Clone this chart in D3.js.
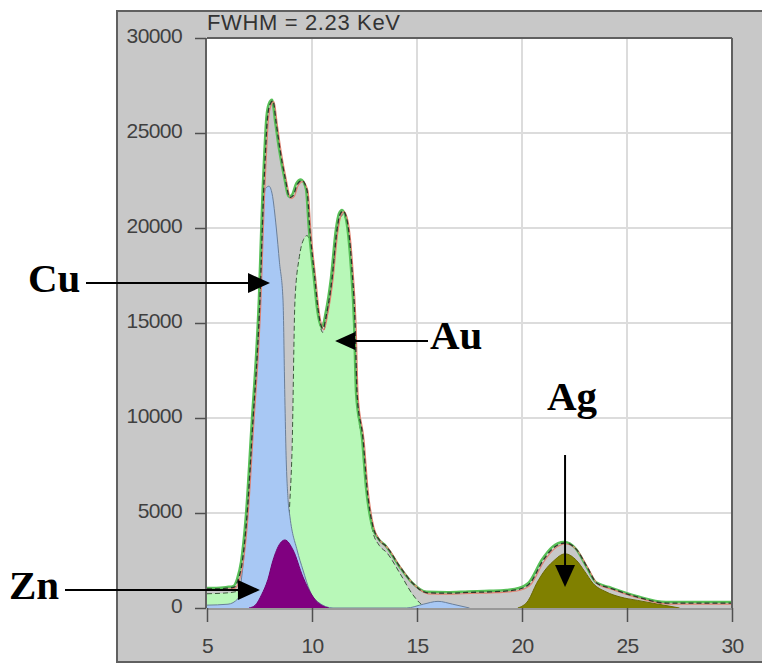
<!DOCTYPE html>
<html>
<head>
<meta charset="utf-8">
<script src="https://cdn.jsdelivr.net/npm/d3@7"></script>
<style>
  html, body { margin: 0; padding: 0; background: #fff; }
  svg { display: block; }
</style>
</head>
<body>
<svg width="762" height="664"></svg>
<script>
// 0. data (energy in keV, counts)
// ----------------------------------
var xTicks = [5, 10, 15, 20, 25, 30];
var yTicks = [0, 5000, 10000, 15000, 20000, 25000, 30000];

var totalE = [5.0, 5.5, 6.0, 6.3, 6.48, 6.67, 6.9, 7.19, 7.4, 7.52, 7.62, 7.7, 7.78, 7.88, 8.0, 8.14, 8.3, 8.48, 8.71, 8.95, 9.1, 9.3, 9.52, 9.76, 9.9, 10.14, 10.29, 10.52, 10.7, 10.95, 11.19, 11.33, 11.48, 11.67, 11.9, 12.05, 12.15, 12.43, 12.62, 12.9, 13.2, 13.57, 14.2, 14.8, 15.5, 16.5, 17.5, 18.5, 19.3, 19.9, 20.38, 21.0, 21.48, 22.05, 22.62, 23.1, 23.57, 24.19, 25.48, 26.9, 28.0, 30.0];
var totalC = [1000, 1000, 1050, 1100, 1470, 2370, 4800, 9900, 13500, 16200, 19500, 22000, 23900, 25800, 26500, 26700, 25500, 24100, 22700, 21600, 21700, 22300, 22500, 22000, 19900, 17300, 15700, 14700, 15500, 17300, 19900, 20700, 20900, 20400, 17900, 15000, 11200, 8900, 6300, 4300, 3600, 3200, 2150, 1300, 800, 780, 820, 850, 900, 1000, 1300, 2500, 3150, 3420, 3050, 2150, 1300, 1050, 580, 260, 260, 260];

var auE = [5.0, 6.0, 6.5, 7.0, 8.0, 8.6, 8.85, 8.95, 9.05, 9.19, 9.4, 9.6, 9.76, 9.9, 10.14, 10.29, 10.52, 10.7, 10.95, 11.19, 11.33, 11.48, 11.67, 11.9, 12.05, 12.15, 12.43, 12.62, 12.9, 13.2, 13.57, 14.2, 14.8, 15.2, 15.6];
var auC = [750, 800, 900, 1200, 1200, 1500, 4000, 5700, 8300, 16200, 18500, 19400, 19600, 19300, 17100, 15500, 14500, 15300, 17100, 19700, 20500, 20700, 20200, 17500, 14200, 10800, 8500, 6000, 4000, 3300, 2900, 1800, 700, 200, 0];

var cuE = [5.0, 6.0, 6.48, 6.67, 6.9, 7.19, 7.4, 7.52, 7.62, 7.7, 7.8, 7.95, 8.1, 8.3, 8.45, 8.62, 8.7, 8.76, 8.86, 8.95, 9.29, 9.57, 9.9, 10.3, 11.0, 14.5, 15.3, 16.0, 16.7, 17.5];
var cuC = [150, 200, 500, 1800, 4500, 9600, 13200, 15900, 19200, 21500, 22100, 22200, 21800, 20000, 18200, 16200, 11500, 8300, 5700, 4800, 3050, 2000, 900, 300, 0, 0, 200, 350, 200, 0];

var znE = [7.0, 7.3, 7.6, 7.9, 8.14, 8.48, 8.71, 9.1, 9.57, 10.05, 10.52, 10.8];
var znC = [0, 150, 700, 1500, 2500, 3400, 3580, 3050, 1630, 580, 100, 0];

var agE = [19.8, 20.3, 20.7, 21.1, 21.48, 22.05, 22.6, 23.0, 23.38, 24.0, 24.67, 25.5, 26.24, 27.0, 27.5];
var agC = [0, 400, 1300, 2000, 2450, 2850, 2500, 1900, 1300, 850, 580, 400, 250, 100, 0];

// element labels with arrow tip in data coords
var labels = [
  { name: 'Cu', e: 8.0, c: 17100, dir: 'right' },
  { name: 'Au', e: 11.1, c: 14050, dir: 'left' },
  { name: 'Ag', e: 22.05, c: 1100, dir: 'down' },
  { name: 'Zn', e: 7.52, c: 950, dir: 'right' }
];

function zip(es, cs) { return es.map((e, i) => [e, cs[i]]); }

// 1. setup
// ----------------------------------
var svg = d3.select('svg');

var x = d3.scaleLinear().domain([5, 30]).range([207, 732]);
var y = d3.scaleLinear().domain([0, 30000]).range([608, 38]);

// grey panel
svg.append('rect')
    .attr('x', 117).attr('y', 11)
    .attr('width', 660).attr('height', 651)
    .style('fill', '#c8c8c8')
    .style('stroke', '#606060')
    .style('stroke-width', 2);

svg.append('text')
    .attr('x', 207).attr('y', 30)
    .attr('textLength', 193)
    .style('font-family', 'Liberation Sans, Arial, sans-serif')
    .style('font-size', '22px')
    .style('fill', '#333')
    .text('FWHM = 2.23 KeV');

// plot area
svg.append('rect')
    .attr('x', x(5)).attr('y', y(30000))
    .attr('width', x(30) - x(5)).attr('height', y(0) - y(30000))
    .style('fill', '#fff');

svg.append('clipPath').attr('id', 'plot-clip')
  .append('rect')
    .attr('x', x(5)).attr('y', y(30000))
    .attr('width', x(30) - x(5)).attr('height', y(0) - y(30000));

// grid
var grid = svg.append('g').classed('grid', true);
grid.selectAll('.gx')
    .data(xTicks.slice(1, -1))
  .enter().append('line')
    .attr('x1', d => x(d)).attr('x2', d => x(d))
    .attr('y1', y(30000)).attr('y2', y(0))
    .style('stroke', '#dcdcdc').style('stroke-width', 2);
grid.selectAll('.gy')
    .data(yTicks.slice(1, -1))
  .enter().append('line')
    .attr('x1', x(5)).attr('x2', x(30))
    .attr('y1', d => y(d)).attr('y2', d => y(d))
    .style('stroke', '#dcdcdc').style('stroke-width', 2);

// 2. spectra
// ----------------------------------
var area = d3.area()
    .x(d => x(d[0]))
    .y0(y(0))
    .y1(d => y(d[1]))
    .curve(d3.curveMonotoneX);
var line = d3.line()
    .x(d => x(d[0]))
    .y(d => y(d[1]))
    .curve(d3.curveMonotoneX);

var plot = svg.append('g').attr('clip-path', 'url(#plot-clip)');

var total = zip(totalE, totalC);

plot.append('path').attr('d', area(total)).style('fill', '#c8c8c8');

var comps = [
  { pts: zip(auE, auC), fill: '#b8f8b8', stroke: '#3c5a3c', dash: '5,3' },
  { pts: zip(cuE, cuC), fill: '#a8c8f4', stroke: '#6a7f9a', dash: null },
  { pts: zip(znE, znC), fill: '#800080', stroke: '#700070', dash: null },
  { pts: zip(agE, agC), fill: '#808000', stroke: '#6a6a00', dash: null }
];

comps.forEach(function(c) {
  plot.append('path').attr('d', area(c.pts)).style('fill', c.fill);
  plot.append('path').attr('d', line(c.pts))
      .style('fill', 'none')
      .style('stroke', c.stroke)
      .style('stroke-width', 1)
      .style('stroke-dasharray', c.dash);
});

// envelope outline: green, red and dark dashes
plot.append('path').attr('d', line(total))
    .attr('transform', 'translate(-1,-1)')
    .style('fill', 'none').style('stroke', '#58c058').style('stroke-width', 2.5);
plot.append('path').attr('d', line(total))
    .attr('transform', 'translate(1,1)')
    .style('fill', 'none').style('stroke', '#e08070').style('stroke-width', 1.2);
plot.append('path').attr('d', line(total))
    .style('fill', 'none').style('stroke', '#2a3a2a').style('stroke-width', 1.3)
    .style('stroke-dasharray', '5,3');

// 3. frame + axes
// ----------------------------------
svg.append('line')
    .attr('x1', x(5)).attr('x2', x(30)).attr('y1', y(30000)).attr('y2', y(30000))
    .style('stroke', '#606060').style('stroke-width', 2);
svg.append('line')
    .attr('x1', x(5) - 1).attr('x2', x(5) - 1).attr('y1', y(30000)).attr('y2', y(0))
    .style('stroke', '#606060').style('stroke-width', 2);
svg.append('line')
    .attr('x1', x(30)).attr('x2', x(30)).attr('y1', y(30000)).attr('y2', y(0))
    .style('stroke', '#606060').style('stroke-width', 2);
svg.append('line')
    .attr('x1', x(5)).attr('x2', x(30)).attr('y1', y(0) + 1).attr('y2', y(0) + 1)
    .style('stroke', '#8a8a8a').style('stroke-width', 1.5);

var xAxis = svg.append('g')
    .attr('transform', 'translate(0,' + y(0) + ')')
    .call(d3.axisBottom(x).tickValues(xTicks).tickSize(14).tickPadding(16));
var yAxis = svg.append('g')
    .attr('transform', 'translate(' + (x(5) - 1) + ',0)')
    .call(d3.axisLeft(y).tickValues(yTicks).tickSize(11).tickPadding(13).tickFormat(d3.format('d')));

[xAxis, yAxis].forEach(function(a) {
  a.select('.domain').remove();
  a.selectAll('.tick line').style('stroke', '#505050').style('stroke-width', 1.5);
  a.selectAll('.tick text')
      .style('font-family', 'Liberation Sans, Arial, sans-serif')
      .style('font-size', '21px')
      .style('letter-spacing', '-0.6px')
      .style('fill', '#404040');
});
yAxis.selectAll('.tick text').attr('dy', '0.22em');

// 4. element labels
// ----------------------------------
var ann = svg.append('g').classed('labels', true);

labels.forEach(function(l) {
  var tx = x(l.e), ty = y(l.c);
  var head, x1, y1, x2, y2, lx, ly;
  if (l.dir === 'right') {
    head = [[tx, ty], [tx - 22, ty - 10], [tx - 22, ty + 10]];
    x1 = l.name === 'Cu' ? 86 : 65; y1 = ty; x2 = tx - 20; y2 = ty;
    lx = l.name === 'Cu' ? 28 : 9; ly = ty + 9;
  } else if (l.dir === 'left') {
    head = [[tx, ty], [tx + 20, ty - 9], [tx + 20, ty + 9]];
    x1 = 428; y1 = ty; x2 = tx + 18; y2 = ty;
    lx = 430; ly = ty + 8;
  } else {
    head = [[tx, ty], [tx - 10, ty - 22], [tx + 10, ty - 22]];
    x1 = tx; y1 = 455; x2 = tx; y2 = ty - 20;
    lx = 547; ly = 410;
  }
  ann.append('line')
      .attr('x1', x1).attr('y1', y1).attr('x2', x2).attr('y2', y2)
      .style('stroke', '#000').style('stroke-width', 2);
  ann.append('path')
      .attr('d', d3.line()(head) + 'Z')
      .style('fill', '#000');
  ann.append('text')
      .attr('x', lx).attr('y', ly)
      .style('font-family', 'Liberation Serif, Times New Roman, serif')
      .style('font-weight', 'bold')
      .style('font-size', '41px')
      .style('fill', '#000')
      .text(l.name);
});
</script>
</body>
</html>
